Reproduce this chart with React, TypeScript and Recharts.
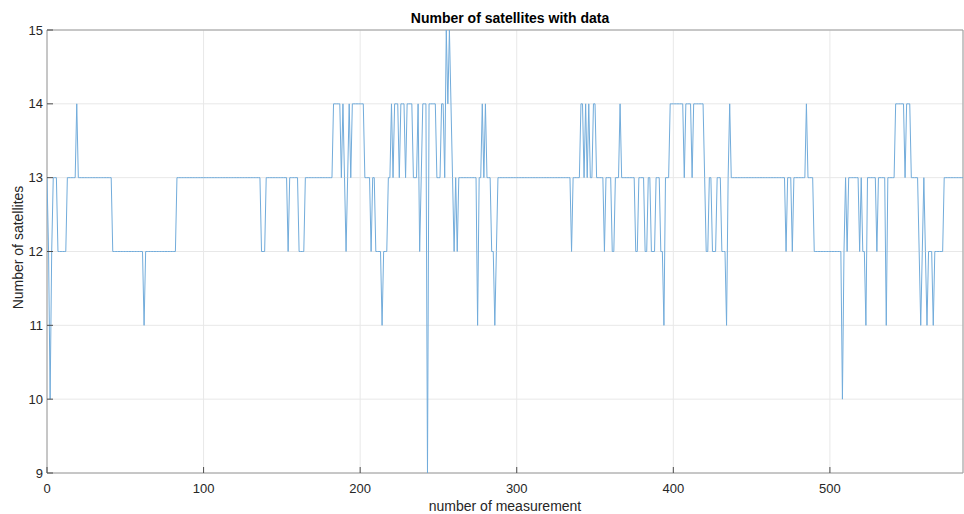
import React from "react";
import {
  LineChart,
  Line,
  XAxis,
  YAxis,
  CartesianGrid,
  ReferenceArea,
} from "recharts";

const chartTitle = "Number of satellites with data";
const xLabel = "number of measurement";
const yLabel = "Number of satellites";
const xTicks = [0, 100, 200, 300, 400, 500];
const yTicks = [9, 10, 11, 12, 13, 14, 15];
const xDomain = [0, 585];
const yDomain = [9, 15];

// number of satellites with data, one value per measurement (index 0..585)
const satellites: number[] = [
  13, 12, 10, 12, 13, 13, 13, 12, 12, 12, 12, 12, 12, 13, 13, 13, 13, 13, 13, 14,
  13, 13, 13, 13, 13, 13, 13, 13, 13, 13, 13, 13, 13, 13, 13, 13, 13, 13, 13, 13, 13, 13,
  12, 12, 12, 12, 12, 12, 12, 12, 12, 12, 12, 12, 12, 12, 12, 12, 12, 12, 12, 12,
  11,
  12, 12, 12, 12, 12, 12, 12, 12, 12, 12, 12, 12, 12, 12, 12, 12, 12, 12, 12, 12,
  13, 13, 13, 13, 13, 13, 13, 13, 13, 13, 13, 13, 13, 13, 13, 13, 13, 13,
  13, 13, 13, 13, 13, 13, 13, 13, 13, 13, 13, 13, 13, 13, 13, 13, 13, 13,
  13, 13, 13, 13, 13, 13, 13, 13, 13, 13, 13, 13, 13, 13, 13, 13, 13, 13,
  12, 12, 12,
  13, 13, 13, 13, 13, 13, 13, 13, 13, 13, 13, 13, 13, 13,
  12,
  13, 13, 13, 13, 13, 13,
  12, 12, 12, 12,
  13, 13, 13, 13, 13, 13, 13, 13, 13, 13, 13, 13, 13, 13, 13, 13, 13, 13,
  14, 14, 14, 14, 14,
  13, 14, 13, 12, 13, 14, 13,
  14, 14, 14, 14, 14, 14, 14, 14,
  13, 13, 13, 13,
  12, 13, 13, 12, 12, 12, 12, 11, 12, 12, 12, 13, 13,
  14, 13, 14, 14, 14, 13, 14, 14, 14, 13, 14, 14, 14, 14, 13, 13, 13, 14, 12, 13,
  14, 14, 14, 9, 14, 14, 14, 14, 14, 13, 13, 13, 14, 14, 13, 15, 14, 15, 14, 13, 12, 13, 12,
  13, 13, 13, 13, 13, 13, 13, 13, 13, 13, 13, 13,
  11, 13, 13, 14, 13, 14, 13, 13, 13, 12, 12, 11, 12,
  13, 13, 13, 13, 13, 13, 13, 13, 13, 13, 13, 13, 13, 13, 13, 13,
  13, 13, 13, 13, 13, 13, 13, 13, 13, 13, 13, 13, 13, 13, 13, 13,
  13, 13, 13, 13, 13, 13, 13, 13, 13, 13, 13, 13, 13, 13, 13,
  12, 13, 13, 13, 13, 13,
  14, 14, 13, 14, 13, 14, 13, 13, 14, 14, 13, 13, 13, 13, 13, 12, 13, 13, 13, 13, 12, 12, 13, 13, 13, 14,
  13, 13, 13, 13, 13, 13, 13, 13, 13, 12, 12, 13, 13, 13, 13, 12, 12, 13, 13, 12, 12, 12, 13, 13, 13, 12, 12, 11, 13, 13, 13,
  14, 14, 14, 14, 14, 14, 14, 14, 14, 13, 14, 14, 14, 14, 13, 14, 14, 14, 14, 14, 14, 14, 13, 12, 12, 13, 13, 12, 12, 12, 13, 13, 13, 12, 12, 12, 11, 13, 14,
  13, 13, 13, 13, 13, 13, 13, 13, 13, 13, 13, 13, 13, 13, 13, 13, 13, 13,
  13, 13, 13, 13, 13, 13, 13, 13, 13, 13, 13, 13, 13, 13, 13, 13, 13,
  12, 13, 13, 13, 12, 13, 13, 13, 13, 13, 13, 13, 13, 14, 13, 13, 13, 13,
  12, 12, 12, 12, 12, 12, 12, 12, 12, 12, 12, 12, 12, 12, 12, 12, 12, 12,
  10, 12, 13, 12, 13, 13, 13, 13, 13, 13, 13, 12, 13, 12, 12, 11, 13, 13, 13, 13, 13, 13, 12, 13, 13, 13, 13, 13, 11,
  13, 13, 13, 13, 13, 14, 14, 14, 14, 14, 14, 13, 14, 14, 14, 13, 13, 13, 13, 13, 12, 11, 12, 13, 12, 11, 12, 12, 12, 11, 12, 12, 12, 12, 12, 12,
  13, 13, 13, 13, 13, 13, 13, 13, 13, 13, 13, 13, 13,
];

const data = satellites.map((v, i) => ({ m: i, n: v }));

const FONT = "'Liberation Sans', Arial, Helvetica, sans-serif";
const TICK_COLOR = "#4d4d4d";
const LABEL_COLOR = "#262626";

const BottomTick = (props: any) => {
  const { x, y, payload } = props;
  return (
    <g>
      <line x1={x} x2={x} y1={y} y2={y - 6} stroke={TICK_COLOR} strokeWidth={1} />
      <text x={x} y={y + 20} textAnchor="middle" fontSize={13} fontFamily={FONT} fill={LABEL_COLOR}>
        {payload.value}
      </text>
    </g>
  );
};

const TopTick = (props: any) => {
  const { x, y } = props;
  return <line x1={x} x2={x} y1={y} y2={y + 6} stroke={TICK_COLOR} strokeWidth={1} />;
};

const LeftTick = (props: any) => {
  const { x, y, payload } = props;
  return (
    <g>
      <line x1={x} x2={x + 6} y1={y} y2={y} stroke={TICK_COLOR} strokeWidth={1} />
      <text x={x - 4} y={y + 4.5} textAnchor="end" fontSize={13} fontFamily={FONT} fill={LABEL_COLOR}>
        {payload.value}
      </text>
    </g>
  );
};

const RightTick = (props: any) => {
  const { x, y } = props;
  return <line x1={x} x2={x - 6} y1={y} y2={y} stroke={TICK_COLOR} strokeWidth={1} />;
};

export default function App() {
  return (
    <div
      style={{
        position: "absolute",
        left: 0,
        top: 0,
        width: 964,
        height: 514,
        background: "#ffffff",
        fontFamily: FONT,
      }}
    >
      <LineChart
        width={964}
        height={514}
        data={data}
        margin={{ top: 30, right: 1, bottom: 0, left: 0 }}
      >
        <CartesianGrid stroke="#e8e8e8" strokeWidth={1} />
        <XAxis
          dataKey="m"
          type="number"
          domain={xDomain}
          ticks={xTicks}
          allowDataOverflow
          height={41}
          tickSize={0}
          tickMargin={0}
          tickLine={false}
          axisLine={false}
          tick={<BottomTick />}
          interval={0}
        />
        <XAxis
          xAxisId="top"
          dataKey="m"
          type="number"
          orientation="top"
          domain={xDomain}
          ticks={xTicks}
          allowDataOverflow
          height={0}
          tickSize={0}
          tickMargin={0}
          tickLine={false}
          axisLine={false}
          tick={<TopTick />}
          interval={0}
        />
        <YAxis
          type="number"
          domain={yDomain}
          ticks={yTicks}
          allowDataOverflow
          width={47}
          tickSize={0}
          tickMargin={0}
          tickLine={false}
          axisLine={false}
          tick={<LeftTick />}
          interval={0}
        />
        <YAxis
          yAxisId="right"
          orientation="right"
          type="number"
          domain={yDomain}
          ticks={yTicks}
          allowDataOverflow
          width={0}
          tickSize={0}
          tickMargin={0}
          tickLine={false}
          axisLine={false}
          tick={<RightTick />}
          interval={0}
        />
        <ReferenceArea
          x1={xDomain[0]}
          x2={xDomain[1]}
          y1={yDomain[0]}
          y2={yDomain[1]}
          fill="none"
          fillOpacity={0}
          stroke="#9a9a9a"
          strokeWidth={1}
        />
        <Line
          type="linear"
          dataKey="n"
          stroke="#72acdb"
          strokeWidth={1}
          dot={false}
          activeDot={false}
          isAnimationActive={false}
        />
      </LineChart>
      <div
        style={{
          position: "absolute",
          left: 310,
          width: 400,
          top: 10,
          textAlign: "center",
          fontWeight: "bold",
          fontSize: 14,
          color: "#000",
          lineHeight: "17px",
        }}
      >
        {chartTitle}
      </div>
      <div
        style={{
          position: "absolute",
          left: 305,
          width: 400,
          top: 498,
          textAlign: "center",
          fontSize: 14,
          color: LABEL_COLOR,
          lineHeight: "17px",
        }}
      >
        {xLabel}
      </div>
      <div
        style={{
          position: "absolute",
          left: 18 - 100,
          top: 247 - 8.5,
          width: 200,
          textAlign: "center",
          fontSize: 14,
          color: LABEL_COLOR,
          lineHeight: "17px",
          transform: "rotate(-90deg)",
        }}
      >
        {yLabel}
      </div>
    </div>
  );
}
